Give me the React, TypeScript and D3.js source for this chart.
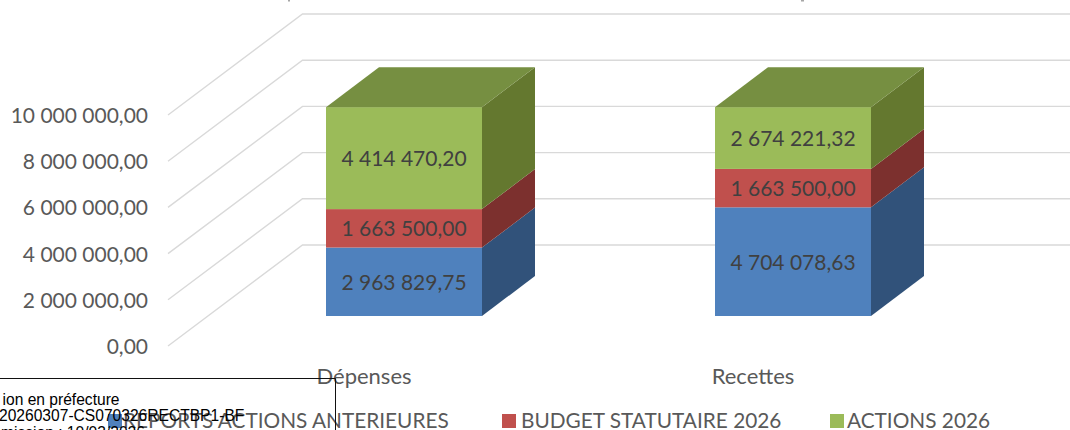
import React from "react";
import * as d3 from "d3";

const categories = ["Dépenses", "Recettes"];
const seriesNames = ["REPORTS ACTIONS ANTERIEURES", "BUDGET STATUTAIRE 2026", "ACTIONS 2026"];
const reports = [2963829.75, 4704078.63];
const budget = [1663500, 1663500];
const actions = [4414470.2, 2674221.32];
const labels = [
  ["2 963 829,75", "1 663 500,00", "4 414 470,20"],
  ["4 704 078,63", "1 663 500,00", "2 674 221,32"],
];
const ticks = [0, 2000000, 4000000, 6000000, 8000000, 10000000];
const tickLabels = ["0,00", "2 000 000,00", "4 000 000,00", "6 000 000,00", "8 000 000,00", "10 000 000,00"];
const stampLines = ["ion en préfecture", "20260307-CS070326RECTBP1-BF", "mission : 10/03/2026"];
const frontColors = ["#4F81BD", "#C0504D", "#9BBB59"];
const sideColors = ["#31527A", "#7C302E", "#64782F"];
const topColors = ["#3A5F8E", "#8F3B39", "#768F41"];

const FONT = "Lato, 'Open Sans', sans-serif";
const h = d3.scaleLinear().domain([0, 10000000]).range([0, 231]);
const xCat = d3.scalePoint<string>().domain(categories).range([326, 715]);
const barW = 156, depthX = 53, depthY = 40;
const baseY = 316;

export default function App() {
  const stacked = d3.stack<number>()
    .keys(["0", "1", "2"])
    .value((i, k) => [reports, budget, actions][+k][i])([0, 1]);
  return (
    <svg width={1070} height={430} style={{ position: "fixed", left: 0, top: 0, background: "#fff" }} fontFamily={FONT}>
      <rect x={288} y={0} width={2} height={1.5} fill="#A6A6A6" />
      <rect x={801} y={0} width={3} height={1.5} fill="#A6A6A6" />
      {ticks.map((t) => {
        const yf = 346 - h(t), yb = 245 - h(t);
        return (
          <path key={t} d={`M168,${yf}L302.5,${yb}H1070`} fill="none" stroke="#D9D9D9" strokeWidth={1.4} />
        );
      })}
      {ticks.map((t, i) => (
        <text key={t} x={148} y={346 - h(t) + 8} textAnchor="end" fontSize={21} fill="#595959">{tickLabels[i]}</text>
      ))}
      {categories.map((c, ci) => {
        const x = xCat(c)!;
        return (
          <g key={c}>
            {stacked.map((s, si) => {
              const y0 = baseY - h(s[ci][0]), y1 = baseY - h(s[ci][1]);
              return (
                <g key={si}>
                  <rect x={x} y={y1} width={barW} height={y0 - y1} fill={frontColors[si]} />
                  <path d={`M${x + barW},${y1}l${depthX},${-depthY}V${y0 - depthY}L${x + barW},${y0}Z`} fill={sideColors[si]} />
                  {si === 2 && <path d={`M${x},${y1}l${depthX},${-depthY}h${barW}l${-depthX},${depthY}Z`} fill={topColors[si]} />}
                  <text x={x + barW / 2} y={(y0 + y1) / 2 + 8} textAnchor="middle" fontSize={21} fill="#404040">{labels[ci][si]}</text>
                </g>
              );
            })}
            <text x={x + 38} y={384} textAnchor="middle" fontSize={22} fill="#595959">{c}</text>
          </g>
        );
      })}
      {seriesNames.map((n, i) => {
        const x = [108, 502, 830][i];
        const tx = [123, 521, 847][i];
        return (
          <g key={n}>
            <rect x={x} y={414} width={14} height={14} fill={frontColors[i]} />
            <text x={tx} y={428} fontSize={20.8} fill="#595959">{n}</text>
          </g>
        );
      })}
      <path d="M0,378.5H335.5V430" fill="none" stroke="#111" strokeWidth={1} />
      <g fontFamily="'Liberation Sans', Arial, sans-serif" fontSize={15.6} fill="#000">
        {stampLines.map((l, i) => (
          <text key={l} x={[2.5, -1, 1][i]} y={[405, 421, 438][i]}>{l}</text>
        ))}
      </g>
    </svg>
  );
}
